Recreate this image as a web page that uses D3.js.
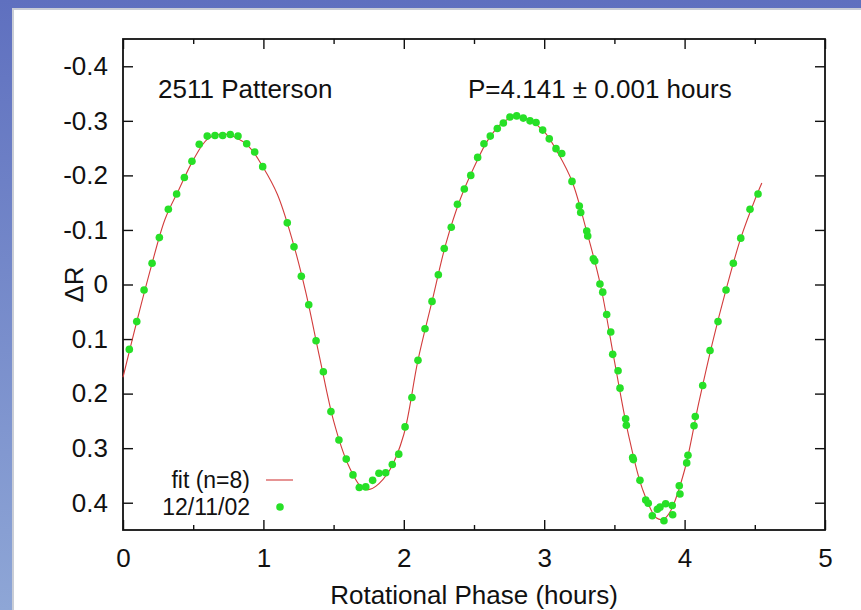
<!DOCTYPE html>
<html>
<head>
<meta charset="utf-8">
<script src="https://cdn.jsdelivr.net/npm/d3@7"></script>
<style>
  body { margin: 0; background: #fff; }
  text { font-family: "Liberation Sans", Arial, Helvetica, sans-serif; fill: #111; }
</style>
</head>
<body>
<div id="chart"></div>
<script>
// Observations from 12/11/02: rotational phase (hours) and delta R
const phase = [0.045, 0.098, 0.150, 0.207, 0.259, 0.323, 0.382, 0.437, 0.491, 0.543,
  0.600, 0.655, 0.710, 0.764, 0.819, 0.881, 0.938, 0.995, 1.170, 1.218,
  1.270, 1.323, 1.375, 1.427, 1.481, 1.538, 1.590, 1.638, 1.683, 1.729,
  1.778, 1.823, 1.871, 1.918, 1.964, 2.009, 2.058, 2.101, 2.151, 2.201,
  2.246, 2.288, 2.338, 2.382, 2.431, 2.477, 2.526, 2.571, 2.616, 2.666,
  2.709, 2.756, 2.804, 2.851, 2.899, 2.942, 2.989, 3.036, 3.084, 3.125,
  3.198, 3.250, 3.260, 3.303, 3.310, 3.350, 3.360, 3.397, 3.417, 3.445,
  3.474, 3.488, 3.526, 3.540, 3.580, 3.585, 3.630, 3.635, 3.682, 3.723,
  3.741, 3.770, 3.806, 3.825, 3.853, 3.865, 3.912, 3.915, 3.962, 3.967,
  4.015, 4.024, 4.067, 4.076, 4.129, 4.181, 4.238, 4.295, 4.347, 4.400,
  4.466, 4.523];
const deltaR = [0.119, 0.068, 0.010, -0.039, -0.086, -0.138, -0.166, -0.196, -0.226, -0.257,
  -0.272, -0.273, -0.273, -0.275, -0.272, -0.258, -0.243, -0.216, -0.113, -0.069,
  -0.015, 0.037, 0.103, 0.160, 0.233, 0.285, 0.320, 0.349, 0.372, 0.371,
  0.359, 0.346, 0.345, 0.330, 0.311, 0.261, 0.207, 0.139, 0.081, 0.031,
  -0.018, -0.066, -0.105, -0.147, -0.175, -0.200, -0.233, -0.258, -0.272, -0.286,
  -0.296, -0.307, -0.309, -0.305, -0.300, -0.297, -0.283, -0.267, -0.249, -0.240,
  -0.189, -0.144, -0.132, -0.098, -0.089, -0.047, -0.043, -0.001, 0.014, 0.055,
  0.087, 0.128, 0.158, 0.190, 0.246, 0.258, 0.317, 0.321, 0.359, 0.395,
  0.401, 0.424, 0.412, 0.408, 0.433, 0.402, 0.405, 0.422, 0.369, 0.384,
  0.327, 0.313, 0.259, 0.242, 0.185, 0.121, 0.068, 0.010, -0.039, -0.085,
  -0.138, -0.166];

// Fourier fit (n=8)
const fitPhase = [0.00, 0.10, 0.20, 0.30, 0.40, 0.50, 0.60, 0.70, 0.80, 0.90,
  1.00, 1.10, 1.20, 1.30, 1.40, 1.50, 1.60, 1.70, 1.75, 1.80,
  1.90, 2.00, 2.10, 2.20, 2.30, 2.40, 2.50, 2.60, 2.70, 2.80,
  2.90, 3.00, 3.10, 3.20, 3.30, 3.40, 3.50, 3.60, 3.70, 3.80,
  3.85, 3.90, 4.00, 4.10, 4.20, 4.30, 4.40, 4.50, 4.55];
const fitDeltaR = [0.170, 0.066, -0.032, -0.120, -0.175, -0.228, -0.266, -0.276, -0.270, -0.252,
  -0.214, -0.165, -0.087, 0.012, 0.133, 0.250, 0.328, 0.372, 0.376, 0.370,
  0.340, 0.275, 0.140, 0.032, -0.075, -0.155, -0.215, -0.265, -0.296, -0.308,
  -0.300, -0.280, -0.240, -0.188, -0.100, 0.000, 0.140, 0.275, 0.375, 0.428,
  0.430, 0.415, 0.340, 0.218, 0.105, 0.005, -0.085, -0.155, -0.186];

const xTicks = [0, 1, 2, 3, 4, 5];
const xMinorTicks = [0.5, 1.5, 2.5, 3.5, 4.5];
const yTicks = [-0.4, -0.3, -0.2, -0.1, 0, 0.1, 0.2, 0.3, 0.4];

const W = 861, H = 610;
const margin = { top: 39, right: 36, bottom: 80, left: 123 };
const width = W - margin.left - margin.right;
const height = H - margin.top - margin.bottom;

const svg = d3.select("#chart").append("svg")
  .attr("width", W)
  .attr("height", H);

// blue slide frame
const defs = svg.append("defs");
const grad = defs.append("linearGradient")
  .attr("id", "sideGrad").attr("x1", 0).attr("y1", 0).attr("x2", 0).attr("y2", 1);
grad.append("stop").attr("offset", "0%").attr("stop-color", "#5f70bf");
grad.append("stop").attr("offset", "100%").attr("stop-color", "#8ea6d6");
svg.append("rect").attr("width", W).attr("height", H).attr("fill", "url(#sideGrad)");
svg.append("rect").attr("x", 12).attr("y", 8).attr("width", W - 12).attr("height", H - 8)
  .attr("fill", "#c9cdd6");
svg.append("rect").attr("x", 14).attr("y", 10).attr("width", W - 14).attr("height", H - 10)
  .attr("fill", "#fff");

const g = svg.append("g")
  .attr("transform", `translate(${margin.left},${margin.top})`);

const x = d3.scaleLinear().domain([0, 5]).range([0, width]);
const y = d3.scaleLinear().domain([-0.45, 0.45]).range([0, height]);

const fmtY = d => d === 0 ? "0" : d.toFixed(1);

// bottom axis with labels, ticks pointing inward
g.append("g")
  .attr("class", "axis")
  .attr("transform", `translate(0,${height})`)
  .call(d3.axisBottom(x).tickValues(xTicks).tickSizeInner(-10).tickSizeOuter(0).tickPadding(19)
    .tickFormat(d3.format("d")));
g.append("g")
  .attr("class", "axis")
  .attr("transform", `translate(0,${height})`)
  .call(d3.axisBottom(x).tickValues(xMinorTicks).tickSizeInner(-5).tickSizeOuter(0).tickFormat(""));

// top mirror ticks
g.append("g")
  .attr("class", "axis")
  .call(d3.axisTop(x).tickValues(xTicks).tickSizeInner(-10).tickSizeOuter(0).tickFormat(""));
g.append("g")
  .attr("class", "axis")
  .call(d3.axisTop(x).tickValues(xMinorTicks).tickSizeInner(-5).tickSizeOuter(0).tickFormat(""));

// left axis
g.append("g")
  .attr("class", "axis")
  .call(d3.axisLeft(y).tickValues(yTicks).tickSizeInner(-10).tickSizeOuter(0).tickPadding(15)
    .tickFormat(fmtY));

// right mirror ticks
g.append("g")
  .attr("class", "axis")
  .attr("transform", `translate(${width},0)`)
  .call(d3.axisRight(y).tickValues(yTicks).tickSizeInner(-10).tickSizeOuter(0).tickFormat(""));

g.selectAll(".axis path").remove();
g.selectAll(".axis line").attr("stroke", "#111").attr("stroke-width", 1.4);
g.selectAll(".axis text")
  .attr("fill", "#111")
  .style("font-size", "26px")
  .style("font-family", "'Liberation Sans', Arial, Helvetica, sans-serif");

// frame
g.append("rect")
  .attr("width", width).attr("height", height)
  .attr("fill", "none").attr("stroke", "#111").attr("stroke-width", 1.8);

// fit curve
const fitData = fitPhase.map((p, i) => ({ p, r: fitDeltaR[i] }));
g.append("path")
  .datum(fitData)
  .attr("fill", "none")
  .attr("stroke", "#d23c3c")
  .attr("stroke-width", 1.1)
  .attr("d", d3.line().x(d => x(d.p)).y(d => y(d.r)).curve(d3.curveCatmullRom));

// data points
const pts = phase.map((p, i) => ({ p, r: deltaR[i] }));
g.selectAll("circle.obs")
  .data(pts)
  .enter()
  .append("circle")
  .attr("class", "obs")
  .attr("cx", d => x(d.p))
  .attr("cy", d => y(d.r))
  .attr("r", 3.8)
  .attr("fill", "#27e027");

// annotations
g.append("text")
  .attr("x", 35).attr("y", 59)
  .style("font-size", "26px")
  .text("2511 Patterson");
g.append("text")
  .attr("x", 345).attr("y", 59)
  .style("font-size", "26px")
  .text("P=4.141 \u00b1 0.001 hours");

// legend
const leg = g.append("g").attr("transform", `translate(0,${height - 50})`);
leg.append("text")
  .attr("x", 127).attr("y", 8)
  .attr("text-anchor", "end")
  .style("font-size", "23px")
  .text("fit (n=8)");
leg.append("line")
  .attr("x1", 143).attr("x2", 170).attr("y1", 0).attr("y2", 0)
  .attr("stroke", "#d23c3c").attr("stroke-width", 1.1);
leg.append("text")
  .attr("x", 127).attr("y", 35)
  .attr("text-anchor", "end")
  .style("font-size", "23px")
  .text("12/11/02");
leg.append("circle")
  .attr("cx", 157).attr("cy", 27).attr("r", 3.8)
  .attr("fill", "#27e027");

// axis labels
svg.append("text")
  .attr("x", margin.left + width / 2)
  .attr("y", 604)
  .attr("text-anchor", "middle")
  .style("font-size", "26px")
  .text("Rotational Phase (hours)");
svg.append("text")
  .attr("transform", `translate(83,${margin.top + height / 2}) rotate(-90)`)
  .attr("text-anchor", "middle")
  .style("font-size", "26px")
  .text("\u0394R");
</script>
</body>
</html>
